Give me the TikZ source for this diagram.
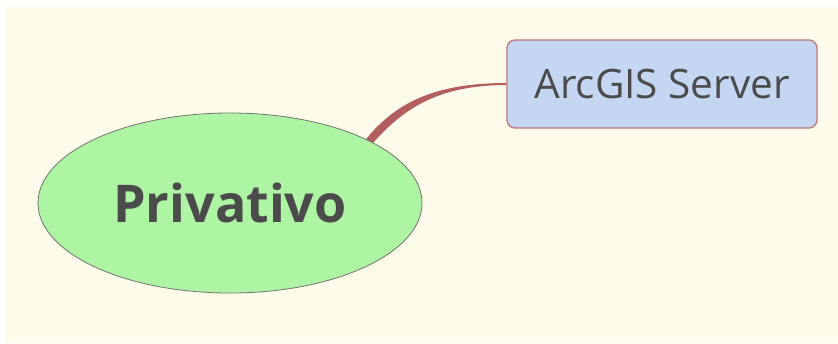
\documentclass[tikz,border=0pt]{standalone}
\usepackage{fontspec}
\setmainfont{Open Sans}
\usetikzlibrary{shapes.geometric,calc,backgrounds}
\definecolor{cream}{HTML}{FDFBE9}
\definecolor{leaf}{HTML}{ADF5A3}
\definecolor{boxblue}{HTML}{C4D6F1}
\definecolor{boxedge}{HTML}{C27676}
\definecolor{linkred}{HTML}{B35F5F}
\definecolor{txt}{HTML}{4B4B4B}
\tikzset{
  rootnode/.style={ellipse, draw=gray!90!black, line width=0.8pt, fill=leaf, inner sep=0pt,
    minimum width=384pt, minimum height=180pt, text=txt,
    font=\fontsize{52}{58}\selectfont\bfseries},
  topicbox/.style={rectangle, rounded corners=8pt, draw=boxedge, line width=1.3pt, fill=boxblue,
    inner sep=0pt, minimum width=310pt, minimum height=88pt, text=txt,
    font=\fontsize{40.5}{44}\selectfont},
  link/.style={fill=linkred, draw=none}
}
\begin{document}
\begin{tikzpicture}[x=1pt,y=-1pt]
\useasboundingbox (0,0) rectangle (838,343);
\node[rootnode] (e) at (230,203) {Privativo};
\node[topicbox] (b) at (662,84) {ArcGIS Server};
\begin{scope}[on background layer]
  \fill[white] (0,0) rectangle (838,343);
  \fill[cream] (6,7) rectangle (838,343);
  \coordinate (s) at (e.24);
  \coordinate (t) at (b.west);
  \path[link] ($(s)+(-3,-2.5)$) .. controls ($(s)+(25,-36)$) and ($(t)+(-75,-1)$) .. ($(t)+(0,-1)$)
    -- ($(t)+(0,1)$) .. controls ($(t)+(-71,1.2)$) and ($(s)+(32,-30)$) .. ($(s)+(3,2.5)$)
    -- ($(s)+(-6,10)$) -- cycle;
\end{scope}
\end{tikzpicture}
\end{document}
